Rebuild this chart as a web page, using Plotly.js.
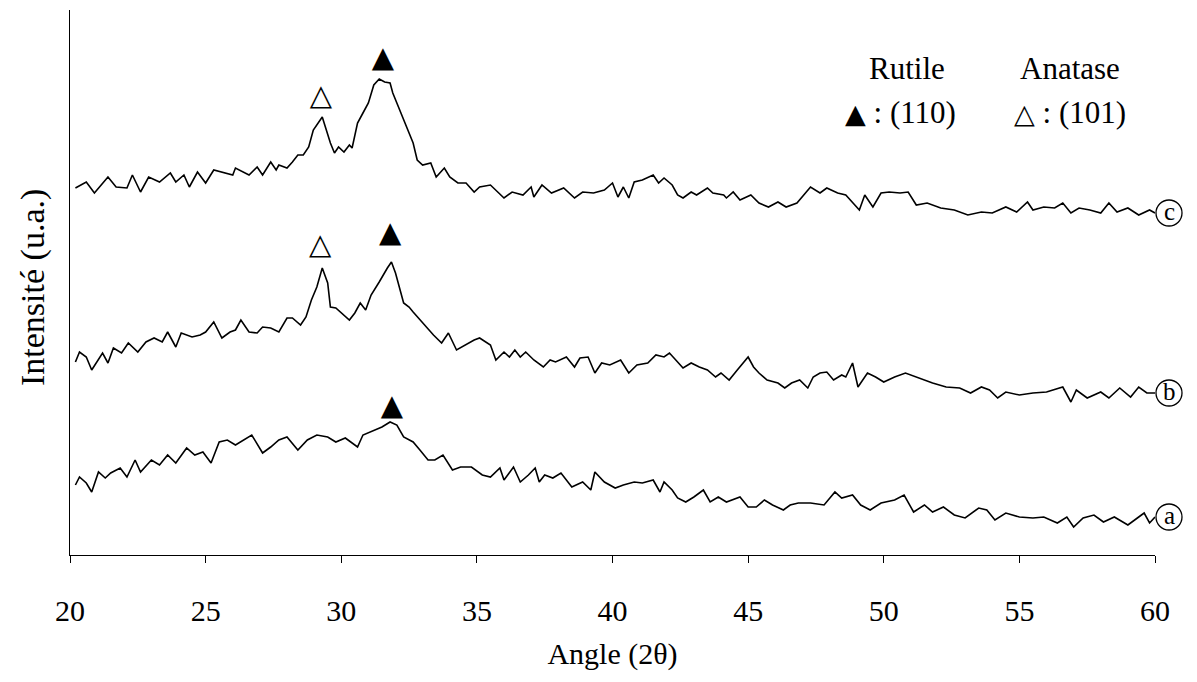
<!DOCTYPE html>
<html>
<head>
<meta charset="utf-8">
<script src="https://cdn.plot.ly/plotly-3.0.1.min.js"></script>
<style>html,body{margin:0;padding:0;background:#fff;}#chart{width:1197px;height:682px;}</style>
</head>
<body>
<div id="chart"></div>
<script>
// ---- Data (2θ in degrees, intensity in arbitrary units) ----
const angleC = [20.2,20.6,20.9,21.4,21.7,22.1,22.3,22.6,22.9,23.3,23.7,23.9,24.2,24.4,24.7,25.0,25.3,25.6,26.0,26.1,26.6,26.9,27.1,27.4,27.6,27.7,28.0,28.2,28.4,28.6,28.8,28.97,29.15,29.3,29.45,29.6,29.75,29.9,30.1,30.3,30.4,30.6,30.8,31.0,31.2,31.4,31.6,31.8,31.9,32.2,32.4,32.65,32.8,33.0,33.3,33.5,33.8,34.0,34.3,34.6,34.9,35.1,35.5,35.8,36.0,36.3,36.7,37.0,37.1,37.4,37.75,38.2,38.6,38.9,39.3,39.7,40.0,40.2,40.4,40.6,40.8,41.1,41.5,41.7,41.9,42.2,42.4,42.6,42.9,43.1,43.5,43.7,44.1,44.2,44.45,44.7,45.1,45.4,45.75,46.1,46.4,46.8,47.3,47.65,47.9,48.3,48.6,49.1,49.3,49.6,49.9,50.2,50.6,50.9,51.2,51.6,52.1,52.6,53.1,53.6,54.0,54.5,54.9,55.3,55.5,55.9,56.3,56.6,56.9,57.2,57.6,58.0,58.3,58.6,59.0,59.4,59.8,60.0];
const intensityC = [367,373,362,378,368,367,380,363,378,373,382,373,380,368,383,372,385,383,380,387,380,388,380,393,385,390,387,393,400,400,408,425,432,438,425,412,402,408,403,410,407,432,442,452,470,476,473,472,462,442,428,412,395,390,392,378,387,378,372,372,363,368,370,362,357,363,360,368,358,370,362,367,357,363,362,365,372,358,368,357,373,375,380,372,377,370,360,357,363,360,367,362,360,357,363,355,360,352,348,353,348,352,368,362,367,362,360,345,360,348,362,363,362,363,350,352,347,345,340,343,342,348,343,353,345,348,347,352,342,347,345,342,352,343,347,340,345,342];

const angleB = [20.2,20.35,20.6,20.8,21.2,21.4,21.6,21.9,22.15,22.5,22.8,23.1,23.4,23.6,23.9,24.1,24.5,24.8,25.0,25.3,25.6,25.9,26.1,26.3,26.6,26.9,27.1,27.4,27.7,28.0,28.2,28.5,28.7,28.9,29.1,29.3,29.5,29.6,29.8,30.0,30.3,30.5,30.7,30.9,31.1,31.4,31.5,31.7,31.85,32.0,32.3,32.5,32.65,32.9,33.15,33.4,33.7,33.95,34.25,34.6,34.9,35.1,35.4,35.5,35.7,36.0,36.2,36.4,36.6,36.8,37.1,37.45,37.7,37.9,38.3,38.6,38.8,39.1,39.35,39.6,39.9,40.3,40.6,40.9,41.3,41.6,41.9,42.1,42.4,42.6,42.9,43.2,43.5,43.8,44.0,44.3,44.6,44.8,45.0,45.2,45.4,45.7,46.1,46.35,46.6,46.9,47.2,47.4,47.65,47.9,48.15,48.45,48.6,48.85,49.05,49.4,49.7,50.0,50.4,50.8,51.2,51.5,51.8,52.3,52.8,53.2,53.6,53.9,54.2,54.5,55.0,55.5,56.0,56.6,56.9,57.1,57.5,58.0,58.3,58.7,59.1,59.4,59.7,60.0];
const intensityB = [193,203,198,185,202,192,207,202,212,203,213,217,213,223,208,222,218,220,223,233,217,223,225,235,223,222,228,227,223,237,237,230,238,255,268,287,272,248,247,242,235,242,252,245,260,273,278,287,293,282,252,248,243,235,228,220,212,222,205,210,215,217,212,210,195,203,198,205,198,203,195,188,195,193,198,188,197,198,182,192,190,195,182,190,192,200,198,202,193,187,192,188,185,178,182,175,185,192,198,188,182,175,172,167,172,175,167,178,182,183,175,180,178,192,168,182,178,173,178,182,178,175,172,168,167,162,168,165,157,163,160,162,163,168,153,165,157,163,157,167,158,168,162,162];

const angleA = [20.2,20.35,20.6,20.8,21.05,21.3,21.5,21.85,22.1,22.4,22.6,23.0,23.3,23.6,23.9,24.3,24.6,24.9,25.2,25.5,25.8,26.1,26.7,27.1,27.4,27.7,28.0,28.4,28.75,29.1,29.5,29.8,30.15,30.6,30.8,31.2,31.5,31.8,32.05,32.3,32.65,32.9,33.2,33.45,33.75,34.1,34.4,34.8,35.2,35.5,35.85,36.0,36.35,36.6,36.9,37.15,37.3,37.5,37.8,38.1,38.5,38.9,39.2,39.35,39.7,40.1,40.4,40.8,41.1,41.5,41.75,41.9,42.2,42.4,42.7,43.0,43.35,43.6,43.9,44.2,44.7,45.0,45.3,45.6,45.9,46.3,46.55,46.85,47.3,47.8,48.2,48.45,48.85,49.15,49.5,49.9,50.4,50.75,51.1,51.5,51.8,52.2,52.6,53.0,53.5,53.8,54.1,54.5,55.0,55.5,55.9,56.4,56.75,57.0,57.35,57.75,58.1,58.5,59.0,59.4,59.6,59.8,60.0];
const intensityA = [70,78,72,63,83,77,82,87,78,95,83,95,90,100,92,107,100,103,92,113,115,110,120,102,108,115,118,105,115,120,118,113,117,108,120,125,128,133,130,118,113,105,95,95,100,85,88,88,80,78,87,75,88,73,80,87,73,80,77,82,68,73,65,83,73,67,70,73,72,75,63,73,65,57,53,58,65,53,58,53,58,48,48,55,50,45,50,52,52,50,63,57,60,50,45,52,55,60,43,50,43,48,40,37,47,45,35,42,38,37,38,32,38,28,37,40,33,38,30,38,42,32,38];

// Peak markers
const rutileAngle = [31.54, 31.8, 31.87];
const rutileY = [495, 320, 147];
const anataseAngle = [29.25, 29.22];
const anataseY = [457, 308];

const sampleLabels = ['a', 'b', 'c'];
const xTicks = [20, 25, 30, 35, 40, 45, 50, 55, 60];

// ---- Layout constants ----
const W = 1197, H = 682;
const M = {l: 70, r: 42, t: 10, b: 127};
const yMax = 545;
const serif = 'Liberation Serif, Times New Roman, serif';
const plotW = W - M.l - M.r, plotH = H - M.t - M.b;

const lineStyle = {color: '#000', width: 1.6};
const traces = [
  {x: angleA, y: intensityA, mode: 'lines', line: lineStyle, hoverinfo: 'skip'},
  {x: angleB, y: intensityB, mode: 'lines', line: lineStyle, hoverinfo: 'skip'},
  {x: angleC, y: intensityC, mode: 'lines', line: lineStyle, hoverinfo: 'skip'},
  {x: rutileAngle, y: rutileY, mode: 'text', text: rutileAngle.map(() => '▲'),
   textposition: 'middle center', textfont: {family: 'DejaVu Sans', size: 29, color: '#000'}, cliponaxis: false},
  {x: anataseAngle, y: anataseY, mode: 'text', text: anataseAngle.map(() => '△'),
   textposition: 'middle center', textfont: {family: 'DejaVu Sans', size: 29, color: '#000', weight: 'bold'}, cliponaxis: false}
];

// circled sample labels at the right end of each trace
const lastVals = [intensityA[intensityA.length-1], intensityB[intensityB.length-1], intensityC[intensityC.length-1]];
const rPx = 13, cxPx = 1169;
const shapes = lastVals.map(v => {
  const cx = (cxPx - M.l) / plotW, cy = v / yMax;
  return {type: 'circle', xref: 'paper', yref: 'paper',
    x0: cx - rPx / plotW, x1: cx + rPx / plotW, y0: cy - rPx / plotH, y1: cy + rPx / plotH,
    line: {color: '#000', width: 1.3}, fillcolor: 'rgba(255,255,255,1)'};
});
const annotations = lastVals.map((v, i) => ({
  xref: 'paper', yref: 'paper', x: (cxPx - M.l) / plotW, y: v / yMax + 0.003,
  text: sampleLabels[i], showarrow: false, xanchor: 'center', yanchor: 'middle',
  font: {family: serif, size: 25, color: '#000'}
}));

// legend text
const legFont = {family: serif, size: 31, color: '#000'};
annotations.push(
  {xref: 'x', yref: 'y', x: 50.86, y: 487, text: 'Rutile', showarrow: false, font: legFont},
  {xref: 'x', yref: 'y', x: 56.87, y: 487, text: 'Anatase', showarrow: false, font: legFont},
  {xref: 'x', yref: 'y', x: 50.6, y: 443, text: '<span style="font-family:DejaVu Sans;font-size:27px">▲</span> : (110)', showarrow: false, font: legFont},
  {xref: 'x', yref: 'y', x: 56.87, y: 443, text: '<span style="font-family:DejaVu Sans;font-size:27px">△</span> : (101)', showarrow: false, font: legFont},
  {xref: 'paper', yref: 'paper', x: (33 - M.l) / plotW, y: (555 - 288) / plotH, text: 'Intensité (u.a.)', textangle: -90,
   showarrow: false, xanchor: 'center', yanchor: 'middle', font: {family: serif, size: 34, color: '#000'}}
);

const layout = {
  width: W, height: H, margin: M,
  paper_bgcolor: '#fff', plot_bgcolor: '#fff', showlegend: false,
  xaxis: {
    range: [20, 60], tickvals: xTicks, ticktext: xTicks.map(String),
    showline: true, linecolor: '#000', linewidth: 1, mirror: false,
    ticks: 'outside', ticklen: 7, tickwidth: 1, tickcolor: '#000',
    tickfont: {family: serif, size: 30, color: '#000'}, ticklabelstandoff: 22,
    showgrid: false, zeroline: false, fixedrange: true,
    title: {text: 'Angle (2θ)', font: {family: serif, size: 30, color: '#000'}, standoff: 16}
  },
  yaxis: {
    range: [0, yMax], showline: true, linecolor: '#000', linewidth: 1,
    ticks: '', showticklabels: false, showgrid: false, zeroline: false, fixedrange: true
  },
  shapes: shapes,
  annotations: annotations
};

Plotly.newPlot('chart', traces, layout, {staticPlot: true, displayModeBar: false});
</script>
</body>
</html>
